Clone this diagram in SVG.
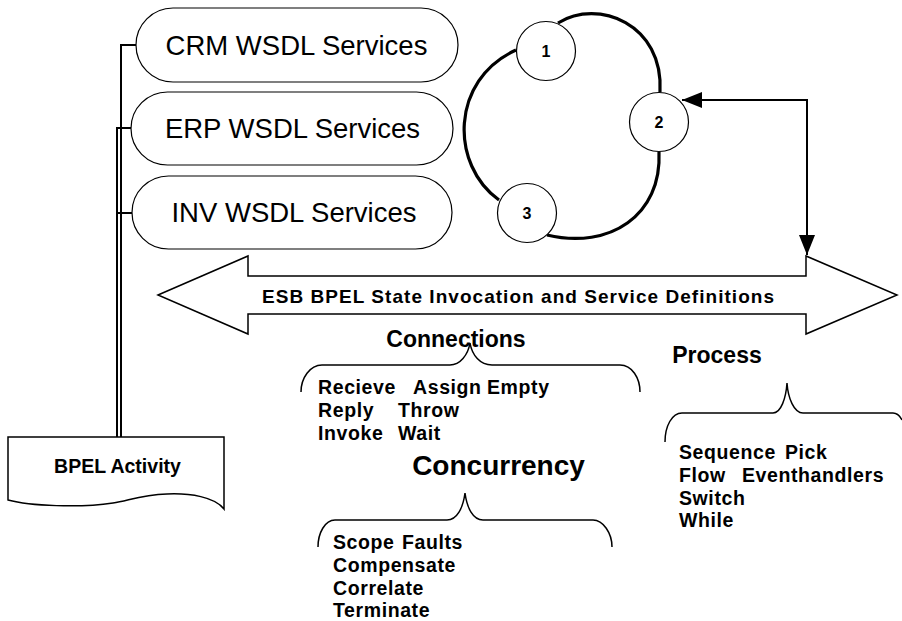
<svg xmlns="http://www.w3.org/2000/svg" width="902" height="621" viewBox="0 0 902 621">
<style>
  .stadium { fill: #fff; stroke: #000; stroke-width: 1.2; }
  .svc { font-family: "Liberation Sans", Arial, sans-serif; font-size: 27.5px; fill: #000; text-anchor: middle; }
  .b { font-family: "Liberation Sans", Arial, sans-serif; font-weight: bold; fill: #000; }
  .item { font-size: 19.5px; letter-spacing: 0.6px; }
  .head { font-size: 23px; text-anchor: middle; }
  .num { font-size: 16px; text-anchor: middle; }
  .brace { fill: none; stroke: #000; stroke-width: 1.5; }
  .ring { fill: none; stroke: #000; stroke-width: 3.2; }
  .small { fill: #fff; stroke: #000; stroke-width: 1.2; }
  .wire { fill: none; stroke: #000; stroke-width: 2; }
</style>
<defs>
  <marker id="ah" viewBox="0 0 20 16" refX="20" refY="8" markerWidth="20" markerHeight="16" markerUnits="userSpaceOnUse" orient="auto-start-reverse">
    <path d="M0,0 L20,8 L0,16 z" fill="#000"/>
  </marker>
</defs>
<rect width="902" height="621" fill="#fff"/>

<g id="connectors">
  <path class="wire" d="M136,45 H121 V437"/>
  <path class="wire" d="M131,128 H117 V437"/>
  <path class="wire" d="M132,213 H117"/>
  <path class="ring" d="M558,23 C598,-2 664,24 660,92"/>
  <path class="ring" d="M659,152 C662,215 610,250 547,235"/>
  <path class="ring" d="M499,200 C450,165 450,80 516,50"/>
  <path class="wire" d="M682,100 H807 V255" marker-start="url(#ah)" marker-end="url(#ah)"/>
</g>

<g id="crm">
  <rect class="stadium" x="136" y="8" width="322" height="74" rx="37"/>
  <text class="svc" x="296.5" y="55">CRM WSDL Services</text>
</g>
<g id="erp">
  <rect class="stadium" x="131" y="92" width="322" height="73" rx="36.5"/>
  <text class="svc" x="292.5" y="138">ERP WSDL Services</text>
</g>
<g id="inv">
  <rect class="stadium" x="132" y="176" width="320" height="73" rx="36.5"/>
  <text class="svc" x="294" y="222">INV WSDL Services</text>
</g>

<g id="state1">
  <circle class="small" cx="546" cy="51" r="29.5"/>
  <text class="b num" x="546" y="57">1</text>
</g>
<g id="state2">
  <circle class="small" cx="659" cy="122" r="29.5"/>
  <text class="b num" x="659" y="128">2</text>
</g>
<g id="state3">
  <circle class="small" cx="527" cy="213" r="29.5"/>
  <text class="b num" x="527" y="219">3</text>
</g>

<g id="esb">
  <polygon points="158,295 248,256 248,276 806,276 806,256 897,295 806,334 806,314 248,314 248,334" fill="#fff" stroke="#000" stroke-width="1.5"/>
  <text class="b" x="518" y="303" font-size="19" text-anchor="middle" textLength="512" lengthAdjust="spacing">ESB BPEL State Invocation and Service Definitions</text>
</g>

<g id="bpel-activity">
  <path d="M8,437 H224 V509 C215,497 190,493 167,494 C140,495 128,501 113,503 C80,508 30,506 8,500 Z" fill="#fff" stroke="#000" stroke-width="1.5"/>
  <text class="b" x="117.5" y="473" font-size="19.5" text-anchor="middle">BPEL Activity</text>
</g>

<g id="connections">
  <text class="b head" x="456" y="347">Connections</text>
  <path class="brace" d="M301,392 C301,378 310,365 322,365 L450,365 C460,365 468,355 470,343 C472,355 480,365 492,365 L620,365 C632,365 640,378 640,392"/>
  <text class="b item" y="394"><tspan x="318">Recieve</tspan><tspan x="413">Assign</tspan><tspan x="487">Empty</tspan></text>
  <text class="b item" y="417"><tspan x="318">Reply</tspan><tspan x="398">Throw</tspan></text>
  <text class="b item" y="440"><tspan x="318">Invoke</tspan><tspan x="398">Wait</tspan></text>
</g>

<g id="concurrency">
  <text class="b" x="498.5" y="475" font-size="28" text-anchor="middle">Concurrency</text>
  <path class="brace" d="M318,547 C318,533 325,520 335,520 L447,520 C457,520 463,508 465,493 C467,508 473,520 483,520 L593,520 C603,520 612,533 612,547"/>
  <text class="b item" y="549"><tspan x="333">Scope</tspan><tspan x="402">Faults</tspan></text>
  <text class="b item" x="333" y="572">Compensate</text>
  <text class="b item" x="333" y="595">Correlate</text>
  <text class="b item" x="333" y="617">Terminate</text>
</g>

<g id="process">
  <text class="b head" x="717" y="363">Process</text>
  <path class="brace" d="M665,442 C665,426 672,413 682,413 L773,413 C781,413 786,398 787,383 C788,398 794,413 803,413 L893,413 C897,413 900,416 902,420"/>
  <text class="b item" y="459"><tspan x="679">Sequence</tspan><tspan x="785">Pick</tspan></text>
  <text class="b item" y="482"><tspan x="679">Flow</tspan><tspan x="742">Eventhandlers</tspan></text>
  <text class="b item" x="679" y="505">Switch</text>
  <text class="b item" x="679" y="527">While</text>
</g>
</svg>
